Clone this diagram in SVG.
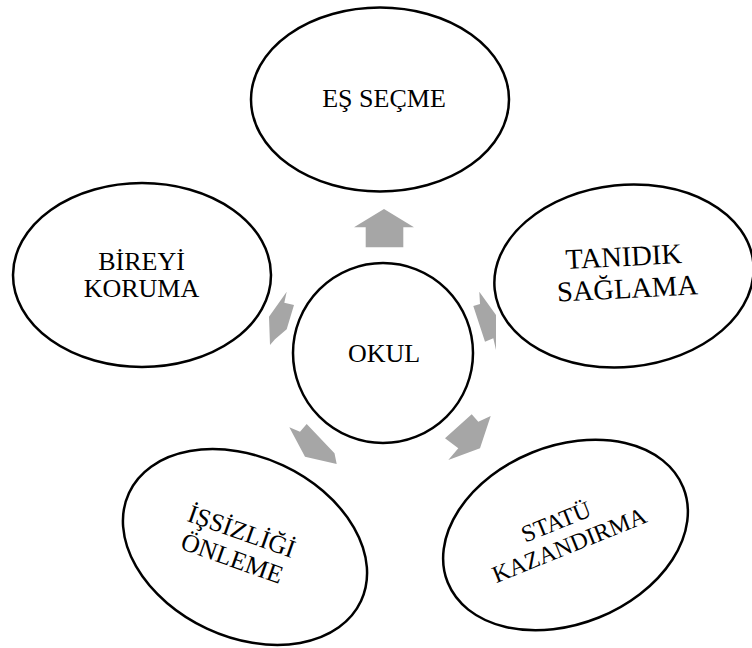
<svg xmlns="http://www.w3.org/2000/svg" width="752" height="648" viewBox="0 0 752 648">
  <style>
    .node { fill: #ffffff; stroke: #000000; stroke-width: 2.5; }
    .lbl { font-family: "Liberation Serif", "Times New Roman", serif; fill: #000000; text-anchor: middle; }
    .arr { fill: #a6a6a6; stroke: none; }
  </style>
  <rect width="752" height="648" fill="#ffffff"/>
  <g id="connectors">
    <polygon class="arr" points="384,209 414,227.3 403.3,227.3 403.3,247.3 365.7,247.3 365.7,227.3 354,227.3"/>
    <polygon class="arr" points="479.3,291.7 496,315 496,350 493.3,338.3 485,341.7 473.3,306 480,304"/>
    <polygon class="arr" points="445,438.3 471.7,414.3 478.3,421.7 490.7,416 480,448.3 448.3,460 458.3,448.3"/>
    <polygon class="arr" points="289.3,427.3 305,456.7 336.7,464 334.5,453.3 306.7,424 300,431.7"/>
    <polygon class="arr" points="286.7,291.7 284.3,302.7 294,305 286.7,329.3 275,339.3 270,345 269,316.7"/>
  </g>
  <g id="node-es-secme">
    <ellipse class="node" cx="380" cy="99.5" rx="129" ry="92"/>
    <text class="lbl" x="384" y="107" font-size="26">EŞ SEÇME</text>
  </g>
  <g id="node-bireyi-koruma">
    <ellipse class="node" cx="142" cy="275" rx="129" ry="92"/>
    <text class="lbl" x="141.5" y="270" font-size="26">BİREYİ</text>
    <text class="lbl" x="141.5" y="297" font-size="26">KORUMA</text>
  </g>
  <g id="node-tanidik-saglama">
    <ellipse class="node" cx="624" cy="276" rx="130" ry="91" transform="rotate(-6 624 276)"/>
    <g transform="translate(626,282) rotate(-3)">
      <text class="lbl" x="-1" y="-16" font-size="28.5">TANIDIK</text>
      <text class="lbl" x="1" y="16" font-size="28.5">SAĞLAMA</text>
    </g>
  </g>
  <g id="node-statu-kazandirma">
    <ellipse class="node" cx="565.5" cy="535" rx="127" ry="89" transform="rotate(-22 565.5 535)"/>
    <g transform="translate(566,541) rotate(-22)">
      <text class="lbl" x="-2" y="-13.5" font-size="24">STATÜ</text>
      <text class="lbl" x="1.5" y="13" font-size="24">KAZANDIRMA</text>
    </g>
  </g>
  <g id="node-issizligi-onleme">
    <ellipse class="node" cx="245" cy="547" rx="128" ry="90" transform="rotate(25 245 547)"/>
    <g transform="translate(235,547) rotate(19.5)">
      <text class="lbl" x="1" y="-8.5" font-size="25.5">İŞSİZLİĞİ</text>
      <text class="lbl" x="1" y="20" font-size="25.5">ÖNLEME</text>
    </g>
  </g>
  <g id="node-okul">
    <circle class="node" cx="383" cy="353" r="90"/>
    <text class="lbl" x="384" y="361.5" font-size="26">OKUL</text>
  </g>
</svg>
